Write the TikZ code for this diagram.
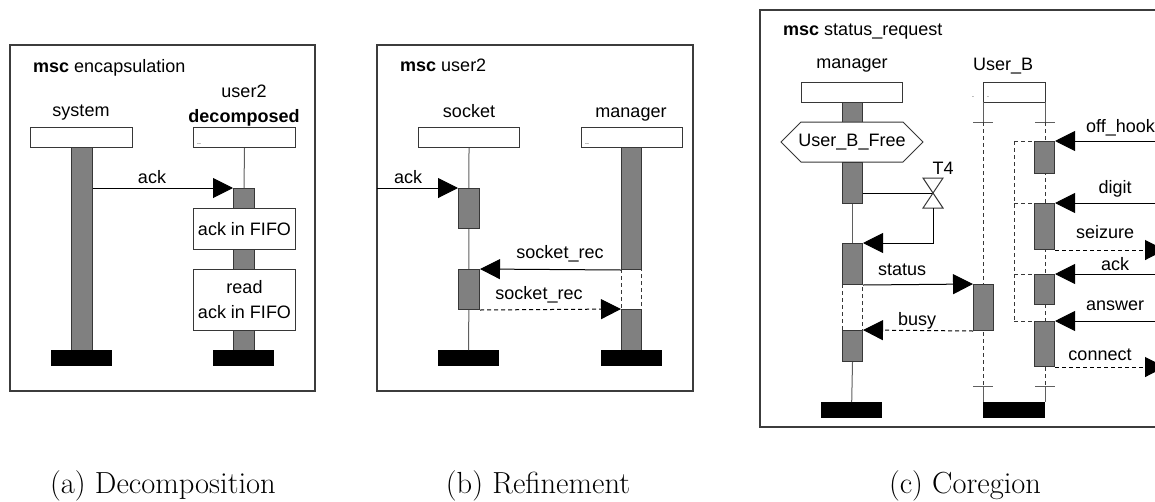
\documentclass[tikz,border=0pt]{standalone}
\usepackage{fontspec}
\newfontfamily\msf{Liberation Sans}
\usetikzlibrary{arrows.meta}
\definecolor{barfill}{RGB}{128,128,128}
\definecolor{barline}{RGB}{55,55,55}
\definecolor{framecol}{RGB}{60,60,60}
\definecolor{lifecol}{RGB}{95,95,95}

\begin{document}
\begin{tikzpicture}[x=1pt,y=-1pt,
  frame/.style={draw=framecol, line width=1.1pt},
  txt/.style={font=\msf\fontsize{18}{22}\selectfont, inner sep=0pt, anchor=base},
  dots/.style={font=\msf\fontsize{7}{8}\selectfont, inner sep=0pt, anchor=base west},
  head/.style={draw=barline, fill=white, line width=1pt, anchor=north west, inner sep=0pt, minimum height=20pt},
  bar/.style={draw=barline, fill=barfill, line width=1pt, anchor=north west, inner sep=0pt, minimum width=21pt},
  stopbox/.style={fill=black, anchor=north west, inner sep=0pt, minimum width=61pt, minimum height=16pt},
  actbox/.style={draw=barline, fill=white, line width=1pt, anchor=north west, inner sep=0pt,
    minimum width=102pt, align=center, font=\msf\fontsize{18}{25}\selectfont},
  life/.style={draw=lifecol, line width=1pt},
  coline/.style={draw=barline, line width=1pt, dash pattern=on 4pt off 3pt},
  msg/.style={draw=black, line width=1pt, -{Triangle[length=20pt,width=20pt]}},
  reply/.style={msg, dash pattern=on 4pt off 3pt},
  subcaption/.style={font=\fontsize{30.5}{36}\selectfont, inner sep=0pt, anchor=base}
]
\useasboundingbox (0,0) rectangle (1155,501);
\clip (0,0) rectangle (1155,501);

% ---------------- (a) encapsulation ----------------
\draw[frame] (10,45) rectangle (315,391);
\node[txt, anchor=base west] (ttlA) at (33,72) {\textbf{msc} encapsulation};

\node[txt] (sysName) at (81,116) {system};
\node[head, minimum width=102pt] (sysHead) at (30,127) {};
\node[bar, minimum height=203pt] (sysBar) at (71,147) {};
\node[stopbox] (sysEnd) at (51,350) {};

\node[txt] (uName) at (244,97) {user2};
\node[txt, font=\msf\bfseries\fontsize{18}{22}\selectfont] (uDec) at (244,122) {decomposed};
\node[head, minimum width=102pt] (uHead) at (193,127) {};
\node[dots] (uDots) at (197,144) {..};
\node[bar, minimum height=162pt] (uBar) at (233,188) {};
\draw[life] (uHead.south) -- (uBar.north);
\node[actbox, minimum height=41pt] (fifoA) at (193,208) {ack in FIFO};
\node[actbox, minimum height=61pt] (fifoB) at (193,269) {read\\ack in FIFO};
\node[stopbox] (uEnd) at (213,350) {};

\draw[msg] (sysBar.east |- uBar.north west) -- (uBar.north west);
\node[txt] (lAckA) at (152,183) {ack};

% ---------------- (b) user2 ----------------
\draw[frame] (377,45) rectangle (693,391);
\node[txt, anchor=base west] (ttlB) at (400,71) {\textbf{msc} user2};
\coordinate (envB) at (377,188);

\node[txt] (sName) at (469,117) {socket};
\node[head, minimum width=101pt] (sHead) at (418,127) {};
\node[stopbox] (sEnd) at (438,350) {};
\draw[life] (sHead.south) -- (sEnd.north);
\node[bar, minimum height=40pt] (sBar1) at (458,188) {};
\node[bar, minimum height=40pt] (sBar2) at (458,269) {};

\node[txt] (mName) at (631,117) {manager};
\node[head, minimum width=101pt] (mHead) at (581,127) {};
\node[dots] (mDots) at (585,144) {..};
\node[bar, minimum width=20pt, minimum height=122pt] (mBar1) at (621,147) {};
\draw[coline] (621,269) rectangle (641,309);
\node[bar, minimum width=20pt, minimum height=41pt] (mBar2) at (621,309) {};
\node[stopbox] (mEnd) at (601,350) {};

\draw[msg] (envB) -- (sBar1.north west);
\node[txt] (lAckB) at (408,183) {ack};
\draw[msg] (mBar1.south west) -- (sBar2.north east);
\node[txt] (lRec1) at (560,258) {socket\_rec};
\draw[reply] (sBar2.south east) -- (mBar2.north west);
\node[txt] (lRec2) at (539,299) {socket\_rec};

% ---------------- (c) status_request ----------------
\draw[frame] (760,10) rectangle (1165,427);
\node[txt, anchor=base west] (ttlC) at (783,35) {\textbf{msc} status\_request};
\coordinate (envC) at (1165,0);

% manager
\node[txt] (cmName) at (852,68) {manager};
\node[head, minimum width=101pt] (cmHead) at (801,82) {};
\node[bar, minimum width=20pt, minimum height=20pt] (cmBar1) at (842,102) {};
\draw[draw=barline, fill=white, line width=1pt]
  (781,142) -- (801,122) -- (903,122) -- (923,142) -- (903,162) -- (801,162) -- cycle;
\node[txt, anchor=center] (cond) at (852,142) {User\_B\_Free};
\node[bar, minimum width=20pt, minimum height=41pt] (cmBar2) at (842,162) {};
\node[bar, minimum width=20pt, minimum height=41pt] (cmBar3) at (842,243) {};
\draw[life] (cmBar2.south) -- (cmBar3.north);
\draw[coline] (842,284) rectangle (862,330);
\node[bar, minimum width=20pt, minimum height=31pt] (cmBar4) at (842,330) {};
\node[stopbox] (cmEnd) at (821,402) {};
\draw[life] (cmBar4.south) -- (cmEnd.north);

% timer T4
\coordinate (tmid) at (933,193);
\coordinate (tbot) at (933,208);
\draw[black, line width=1pt] (cmBar2.east |- tmid) -- (tmid);
\draw[draw=barline, fill=white, line width=1pt]
  (923,178) -- (943,178) -- (923,208) -- (943,208) -- cycle;
\node[txt] (lT4) at (943,174) {T4};
\draw[msg] (tbot) |- (cmBar3.north east);

% User_B
\node[txt] (ubName) at (1003,70) {User\_B};
\draw[draw=barline, line width=1pt] (983,82) rectangle (1045,102);
\coordinate (ubL) at (983,102);
\coordinate (ubR) at (1045,102);
\node[dots] (ubDot1) at (972,97) {.};
\node[dots] (ubDot2) at (987,97) {.};
\draw[life] (ubL) -- (983,122);
\draw[life] (ubR) -- (1045,122);
\draw[life] (973,122) -- (993,122);
\draw[life] (1035,122) -- (1055,122);
\draw[coline] (983,122) -- (983,386);
\draw[coline] (1045,122) -- (1045,386);
\draw[life] (973,386) -- (993,386);
\draw[life] (1035,386) -- (1055,386);
\draw[life] (983,386) -- (983,402);
\draw[life] (1045,386) -- (1045,402);
\node[stopbox, minimum width=62pt] (ubEnd) at (983,402) {};

\node[bar, minimum width=20pt, minimum height=46pt] (ubBar) at (973,284) {};
\node[bar, minimum width=20pt, minimum height=32pt] (rb1) at (1034,141) {};
\node[bar, minimum width=20pt, minimum height=46pt] (rb2) at (1034,203) {};
\node[bar, minimum width=20pt, minimum height=30pt] (rb3) at (1034,274) {};
\node[bar, minimum width=20pt, minimum height=45pt] (rb4) at (1034,321) {};

% coregion bracket
\draw[coline] (1014,141) -- (1014,321);
\draw[coline] (1014,141) -- (rb1.north west);
\draw[coline] (1014,203) -- (rb2.north west);
\draw[coline] (1014,274) -- (rb3.north west);
\draw[coline] (1014,321) -- (rb4.north west);

% messages of (c)
\draw[msg] (cmBar3.south east) -- (ubBar.north west);
\node[txt] (lStatus) at (902,275) {status};
\draw[reply] (ubBar.south west) -- (cmBar4.north east);
\node[txt] (lBusy) at (917,325) {busy};

\draw[msg] (envC |- rb1.north east) -- (rb1.north east);
\node[txt, anchor=base west] (lHook) at (1086,132) {off\_hook};
\draw[msg] (envC |- rb2.north east) -- (rb2.north east);
\node[txt] (lDigit) at (1115,193) {digit};
\draw[reply] (rb2.south east) -- (envC |- rb2.south east);
\node[txt] (lSeize) at (1105,238) {seizure};
\draw[msg] (envC |- rb3.north east) -- (rb3.north east);
\node[txt] (lAckC) at (1115,270) {ack};
\draw[msg] (envC |- rb4.north east) -- (rb4.north east);
\node[txt] (lAnswer) at (1115,310) {answer};
\draw[reply] (rb4.south east) -- (envC |- rb4.south east);
\node[txt] (lConnect) at (1100,360) {connect};

% captions
\node[subcaption] (capA) at (163,493) {(a) Decomposition};
\node[subcaption] (capB) at (538,493) {(b) Refinement};
\node[subcaption] (capC) at (965,493) {(c) Coregion};
\end{tikzpicture}
\end{document}
